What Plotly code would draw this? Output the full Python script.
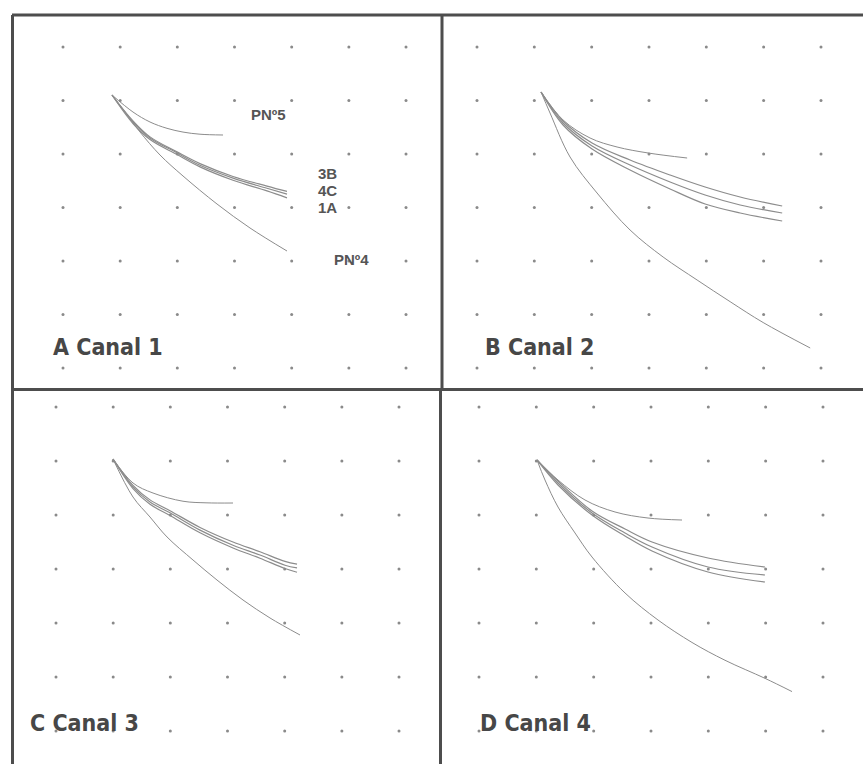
import plotly.graph_objects as go

W, H = 863, 764

# ---------------- data (grid units: x right, y up; dot grid at 0..6) ----------------
grid_vals = [0, 1, 2, 3, 4, 5, 6]

panel_titles = ["A Canal 1", "B Canal 2", "C Canal 3", "D Canal 4"]

# Panel A
a_pn5_x = [0.857, 1.224, 1.522, 1.819, 2.099, 2.396, 2.799]
a_pn5_y = [5.103, 4.785, 4.598, 4.480, 4.410, 4.370, 4.355]
a_cl_x = [0.857, 1.224, 1.522, 1.994, 2.396, 2.974, 3.568, 3.918]
a_3b_y = [5.103, 4.62, 4.32, 4.04, 3.82, 3.58, 3.40, 3.30]
a_4c_y = [5.103, 4.60, 4.30, 4.02, 3.79, 3.55, 3.36, 3.25]
a_1a_y = [5.103, 4.57, 4.27, 3.99, 3.76, 3.51, 3.31, 3.18]
a_pn4_x = [0.857, 1.085, 1.347, 1.697, 2.099, 2.694, 3.271, 3.918]
a_pn4_y = [5.103, 4.785, 4.411, 3.981, 3.589, 3.065, 2.617, 2.187]

# Panel B
b_pn5_x = [1.117, 1.501, 1.972, 2.443, 2.984, 3.665]
b_pn5_y = [5.159, 4.636, 4.299, 4.131, 4.019, 3.925]
b_cl_x = [1.117, 1.501, 2.007, 2.670, 3.368, 3.979, 4.590, 5.323]
b_top_y = [5.159, 4.617, 4.206, 3.888, 3.607, 3.383, 3.196, 3.028]
b_mid_y = [5.159, 4.579, 4.150, 3.794, 3.477, 3.234, 3.047, 2.897]
b_bot_y = [5.159, 4.542, 4.093, 3.701, 3.346, 3.065, 2.897, 2.748]
b_pn4_x = [1.117, 1.274, 1.623, 2.094, 2.670, 3.246, 3.839, 4.415, 4.991, 5.812]
b_pn4_y = [5.159, 4.766, 3.944, 3.271, 2.579, 2.075, 1.645, 1.240, 0.850, 0.374]

# Panel C
c_pn5_x = [0.997, 1.347, 1.697, 2.221, 2.641, 3.096]
c_pn5_y = [5.037, 4.593, 4.407, 4.255, 4.225, 4.222]
c_cl_x = [0.997, 1.347, 1.644, 1.994, 2.519, 3.096, 3.568, 4.006, 4.216]
c_top_y = [5.037, 4.55, 4.28, 4.08, 3.77, 3.50, 3.32, 3.14, 3.09]
c_mid_y = [5.037, 4.52, 4.24, 4.04, 3.72, 3.44, 3.26, 3.07, 3.02]
c_bot_y = [5.037, 4.49, 4.20, 3.99, 3.67, 3.39, 3.20, 3.01, 2.94]
c_pn4_x = [0.997, 1.347, 1.644, 1.942, 2.396, 2.816, 3.271, 3.743, 4.268]
c_pn4_y = [5.037, 4.333, 3.963, 3.593, 3.167, 2.796, 2.426, 2.093, 1.778]

# Panel D
d_pn5_x = [1.012, 1.378, 1.849, 2.372, 2.948, 3.541]
d_pn5_y = [5.019, 4.648, 4.278, 4.056, 3.944, 3.907]
d_cl_x = [1.012, 1.378, 1.971, 2.547, 3.018, 3.994, 4.989]
d_top_y = [5.019, 4.630, 4.074, 3.741, 3.500, 3.204, 3.037]
d_mid_y = [5.019, 4.593, 4.037, 3.667, 3.407, 3.037, 2.889]
d_bot_y = [5.019, 4.556, 4.000, 3.611, 3.333, 2.944, 2.759]
d_pn4_x = [1.012, 1.151, 1.378, 1.675, 1.971, 2.547, 3.122, 3.715, 4.291, 4.989, 5.460]
d_pn4_y = [5.019, 4.648, 4.148, 3.667, 3.222, 2.556, 2.056, 1.640, 1.310, 0.975, 0.730]

# Curve labels (panel A)
label_texts = ["PNº5", "3B", "4C", "1A", "PNº4"]
label_x = [3.586, 4.618, 4.618, 4.618, 5.055]
label_y = [4.729, 3.627, 3.317, 3.009, 2.019]

panel_curves = [
    [(a_pn5_x, a_pn5_y), (a_cl_x, a_3b_y), (a_cl_x, a_4c_y), (a_cl_x, a_1a_y), (a_pn4_x, a_pn4_y)],
    [(b_pn5_x, b_pn5_y), (b_cl_x, b_top_y), (b_cl_x, b_mid_y), (b_cl_x, b_bot_y), (b_pn4_x, b_pn4_y)],
    [(c_pn5_x, c_pn5_y), (c_cl_x, c_top_y), (c_cl_x, c_mid_y), (c_cl_x, c_bot_y), (c_pn4_x, c_pn4_y)],
    [(d_pn5_x, d_pn5_y), (d_cl_x, d_top_y), (d_cl_x, d_mid_y), (d_cl_x, d_bot_y), (d_pn4_x, d_pn4_y)],
]
curve_widths = [1, 1.2, 1.2, 1.2, 1]

# ---------------- layout geometry (pixels) ----------------
panels = [
    dict(box=(13, 15, 442, 388), gx=63, dx=57.17, gy=47, dy=53.5, title_x=51, title_y=347),
    dict(box=(442, 15, 863, 388), gx=477, dx=57.33, gy=47, dy=53.5, title_x=483, title_y=347),
    dict(box=(12, 390, 441, 764), gx=56, dx=57.17, gy=407, dy=54.0, title_x=28, title_y=723),
    dict(box=(440, 390, 863, 764), gx=479, dx=57.33, gy=407, dy=54.0, title_x=478, title_y=723),
]

fig = go.Figure()
layout_axes = {}
annotations = []

gx_all = [x for x in grid_vals for _ in grid_vals]
gy_all = [y for _ in grid_vals for y in grid_vals]

for i, p in enumerate(panels):
    n = "" if i == 0 else str(i + 1)
    xa, ya = "x" + n, "y" + n
    bx0, by0, bx1, by1 = p["box"]
    xr = [(bx0 - p["gx"]) / p["dx"], (bx1 - p["gx"]) / p["dx"]]
    yr = [6 - (by1 - p["gy"]) / p["dy"], 6 - (by0 - p["gy"]) / p["dy"]]
    layout_axes["xaxis" + n] = dict(domain=[bx0 / W, bx1 / W], range=xr, visible=False,
                                    anchor=ya, fixedrange=True)
    layout_axes["yaxis" + n] = dict(domain=[1 - by1 / H, 1 - by0 / H], range=yr, visible=False,
                                    anchor=xa, fixedrange=True)
    fig.add_trace(go.Scatter(x=gx_all, y=gy_all, mode="markers", xaxis=xa, yaxis=ya,
                             marker=dict(size=3, color="#8a8a8a"), hoverinfo="skip",
                             showlegend=False))
    for (cx, cy), lw in zip(panel_curves[i], curve_widths):
        fig.add_trace(go.Scatter(x=cx, y=cy, mode="lines", xaxis=xa, yaxis=ya,
                                 line=dict(color="#8c8c8c", width=lw, shape="spline", smoothing=1.0),
                                 hoverinfo="skip", showlegend=False))
    tx = (p["title_x"] - p["gx"]) / p["dx"]
    ty = 6 - (p["title_y"] - p["gy"]) / p["dy"]
    annotations.append(dict(x=tx, y=ty, xref=xa, yref=ya, text=panel_titles[i],
                            showarrow=False, xanchor="left", yanchor="middle",
                            font=dict(family="DejaVu Sans Condensed, Liberation Sans Narrow, Liberation Sans",
                                      size=23, color="#474747", weight="bold")))

for t, lx, ly in zip(label_texts, label_x, label_y):
    annotations.append(dict(x=lx, y=ly, xref="x", yref="y", text="<b>" + t + "</b>",
                            showarrow=False, xanchor="center", yanchor="middle",
                            font=dict(family="Liberation Sans, Arial", size=15, color="#555555")))

def seg(x0, y0, x1, y1):
    return dict(type="line", xref="paper", yref="paper",
                x0=x0 / W, y0=1 - y0 / H, x1=x1 / W, y1=1 - y1 / H,
                line=dict(color="#4d4d4d", width=3))

shapes = [
    seg(12, 15, 863, 15),
    seg(12.5, 15, 12.5, 764),
    seg(442, 15, 442, 389),
    seg(440.5, 389, 440.5, 764),
    seg(12, 389.5, 863, 389.5),
]

fig.update_layout(width=W, height=H, margin=dict(l=0, r=0, t=0, b=0),
                  paper_bgcolor="white", plot_bgcolor="rgba(0,0,0,0)",
                  showlegend=False, annotations=annotations, shapes=shapes,
                  **layout_axes)

fig.write_html("out.html")
